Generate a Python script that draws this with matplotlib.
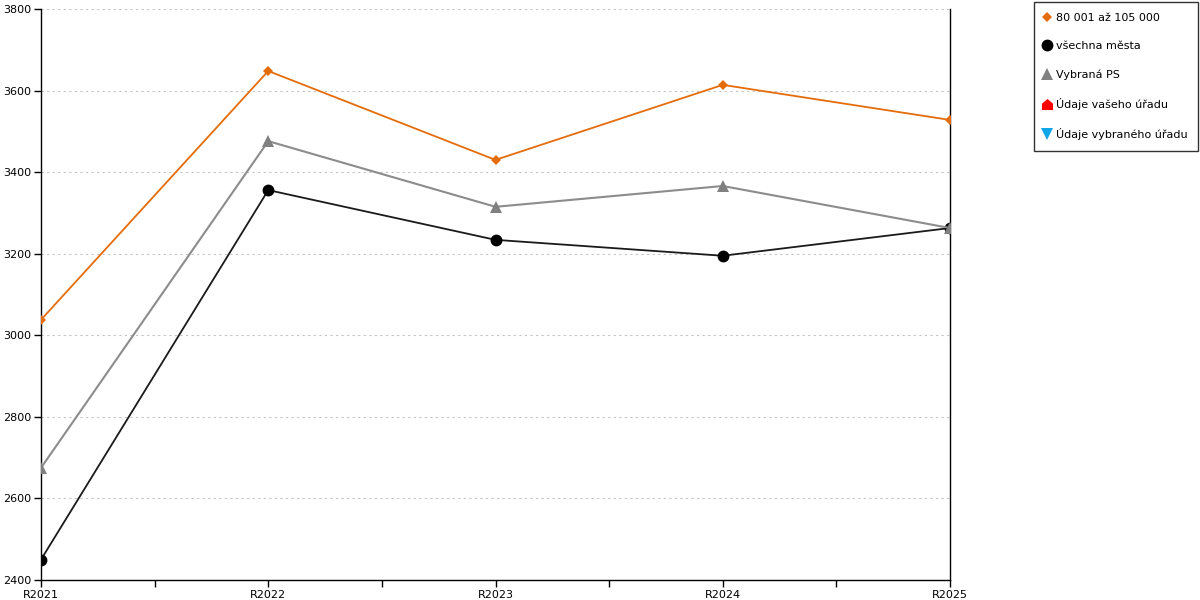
import matplotlib.pyplot as plt
from matplotlib.path import Path

plt.rcParams['font.family'] = ['DejaVu Sans']

# data
years = ["R2021", "R2022", "R2023", "R2024", "R2025"]
band_80k = [3038, 3648, 3430, 3614, 3528]
all_towns = [2450, 3356, 3234, 3195, 3263]
selected_ps = [2675, 3476, 3315, 3366, 3263]

legend_labels = ["80 001 až 105 000", "všechna města", "Vybraná PS",
                 "Údaje vašeho úřadu", "Údaje vybraného úřadu"]

fig = plt.figure(figsize=(12, 6), dpi=100)
ax = fig.add_axes([41 / 1200, 20 / 600, 909 / 1200, 571 / 600])

x = list(range(len(years)))

# house shaped marker for the empty series
house = Path([(-1, -1), (1, -1), (1, 0.15), (0, 1), (-1, 0.15), (-1, -1)],
             [Path.MOVETO] + [Path.LINETO] * 4 + [Path.CLOSEPOLY])

l1, = ax.plot(x, band_80k, color="#e46c0a", lw=1.3, marker="D", ms=5.5,
              markeredgewidth=0, label=legend_labels[0], zorder=4)
l2, = ax.plot(x, all_towns, color="#1a1a1a", lw=1.3, marker="o", ms=7.5,
              markerfacecolor="black", markeredgecolor="black",
              label=legend_labels[1], zorder=3)
l3, = ax.plot(x, selected_ps, color="#8c8c8c", lw=1.5, marker="^", ms=8,
              markerfacecolor="#808080", markeredgewidth=0,
              label=legend_labels[2], zorder=4)
l4, = ax.plot([], [], color="red", lw=0, marker=house, ms=8,
              markeredgewidth=0, label=legend_labels[3])
l5, = ax.plot([], [], color="#0ea5e9", lw=0, marker="v", ms=8,
              markeredgewidth=0, label=legend_labels[4])

ax.set_xlim(0, len(years) - 1)
ax.set_ylim(2400, 3800)
ax.set_yticks(range(2400, 3801, 200))
ax.set_xticks(x)
ax.set_xticklabels(years)
ax.set_xticks([i + 0.5 for i in x[:-1]], minor=True)

ax.tick_params(axis="both", direction="out", length=5, width=1,
               labelsize=8, colors="black", pad=2)
ax.tick_params(axis="x", which="minor", direction="out", length=5, width=1)
ax.tick_params(axis="y", which="both", right=False)

ax.grid(axis="y", color="#c4c4c4", linestyle=(0, (2, 3)), lw=0.8)
ax.set_axisbelow(True)
for side in ["left", "bottom", "right"]:
    ax.spines[side].set_color("black")
    ax.spines[side].set_linewidth(1)
ax.spines["top"].set_visible(False)

leg = fig.legend(handles=[l1, l2, l3, l4, l5], loc="upper left",
                 bbox_to_anchor=(1034 / 1200, 1 - 2 / 600), frameon=True,
                 fancybox=False, edgecolor="black", fontsize=8,
                 handlelength=0.5, handletextpad=0.55, labelspacing=1.65,
                 borderpad=0.95, borderaxespad=0)
leg.get_frame().set_linewidth(1)
for h in leg.legend_handles:
    h.set_linestyle("none")

fig.savefig("out.png", dpi=100)
